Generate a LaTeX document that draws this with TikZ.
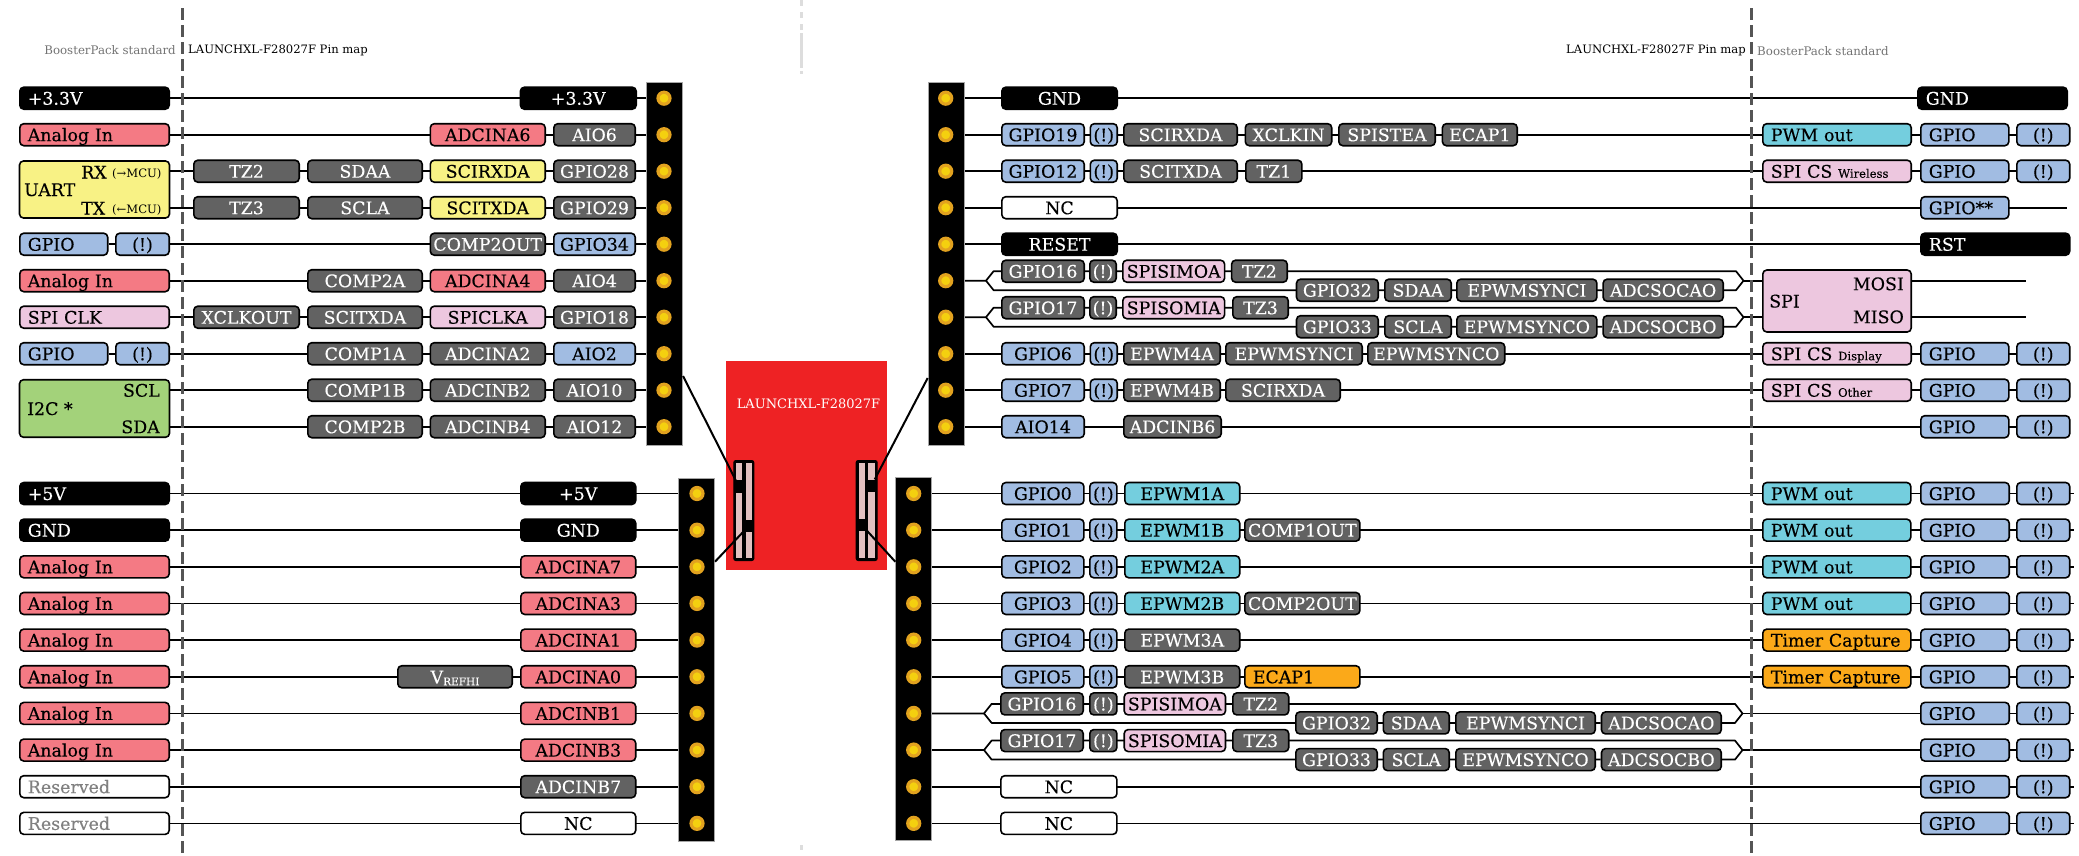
\documentclass[tikz,border=0pt]{standalone}
\usepackage{fontspec}
\setmainfont[FakeBold=0.2]{DejaVu Serif}
\newfontfamily\thinfont{DejaVu Serif}
\usetikzlibrary{backgrounds}
\definecolor{analogred}{HTML}{F47A84}
\definecolor{uartyellow}{HTML}{F8F285}
\definecolor{gpioblue}{HTML}{A1BCE2}
\definecolor{altgray}{HTML}{626262}
\definecolor{spipink}{HTML}{EDC7DF}
\definecolor{i2cgreen}{HTML}{A3D27A}
\definecolor{pwmcyan}{HTML}{74CEDE}
\definecolor{capamber}{HTML}{FBA919}
\definecolor{boardred}{HTML}{EE2224}
\definecolor{pinamber}{HTML}{E2A21F}
\definecolor{pinyellow}{HTML}{F4D00F}
\definecolor{socketpink}{HTML}{E2C0C0}
\definecolor{guidegray}{HTML}{555555}
\definecolor{centergray}{HTML}{DDDDDD}
\newcommand{\lbl}{\fontsize{17.4}{20}\selectfont}
\newcommand{\smalllbl}{\thinfont\fontsize{11.6}{13}\selectfont}
\newcommand{\cslbl}{\fontsize{11.6}{12}\selectfont}
\tikzset{
  declare function={ya(\i)=98.2+36.5*\i; yb(\i)=493.5+36.65*\i;},
  pinbox/.style={draw=black, line width=1.6pt, rounded corners=4pt, inner sep=0pt, minimum height=22pt, align=center, text height=15pt, text depth=2pt, font=\lbl},
  lft/.style={align=left, execute at begin node=\hspace*{8pt}},
  powerbox/.style={pinbox, fill=black, text=white},
  analogbox/.style={pinbox, fill=analogred},
  uartbox/.style={pinbox, fill=uartyellow},
  gpiobox/.style={pinbox, fill=gpioblue},
  altbox/.style={pinbox, fill=altgray, text=white},
  spibox/.style={pinbox, fill=spipink},
  i2cbox/.style={pinbox, fill=i2cgreen},
  pwmbox/.style={pinbox, fill=pwmcyan},
  capbox/.style={pinbox, fill=capamber},
  ncbox/.style={pinbox, fill=white},
  rsvbox/.style={pinbox, fill=white, text=black!50},
  tag/.style={inner sep=0pt, font=\lbl, text height=15pt, text depth=2pt},
  wire/.style={line width=1.7pt, black},
  strip/.style={fill=black, draw=black!35, line width=0.8pt, minimum width=36pt, minimum height=363pt, inner sep=0pt},
  pin/.style={circle, fill=pinyellow, draw=pinamber, line width=3.2pt, minimum size=12pt, inner sep=0pt},
  sockpin/.style={fill=black, minimum width=9pt, minimum height=12.7pt, inner sep=0pt},
  guide/.style={guidegray, line width=3pt, dash pattern=on 12pt off 5pt},
  stamp/.style={inner sep=0pt, font=\smalllbl},
}
\newcommand{\chip}[6]{%
  \pgfmathsetmacro{\chipw}{#4-#3-1.6}%
  \pgfmathsetmacro{\chipx}{(#3+#4)/2}%
  \pgfmathsetmacro{\chipy}{#5}%
  \node[#2, text width=\chipw pt] (#1) at (\chipx,\chipy) {#6};%
}
\begin{document}
\begin{tikzpicture}[x=1pt, y=-1pt]
  \useasboundingbox (0,0) rectangle (2079,855);
  % centre marks and the two standard lines
  \draw[centergray, line width=3pt, dash pattern=on 6pt off 6pt] (801,0) -- (801,30);
  \draw[centergray, line width=3pt] (801,33) -- (801,68);
  \draw[centergray, line width=3pt] (801,71) -- (801,74);
  \draw[centergray, line width=3pt] (801,845) -- (801,850);
  \draw[guide] (182.6,8) -- (182.6,853);
  \draw[guide] (1751,8) -- (1751,853);
  \node[stamp, text=black!55, font=\thinfont\fontsize{11.8}{13}\selectfont, anchor=east] (stdL) at (176,50.5) {BoosterPack standard};
  \node[stamp, anchor=west] (mapL) at (188,50) {LAUNCHXL-F28027F Pin map};
  \node[stamp, anchor=east] (mapR) at (1746,50) {LAUNCHXL-F28027F Pin map};
  \node[stamp, text=black!55, font=\thinfont\fontsize{11.8}{13}\selectfont, anchor=west] (stdR) at (1757,51) {BoosterPack standard};
  % board
  \node[fill=boardred, minimum width=161.6pt, minimum height=209pt, inner sep=0pt] (board) at (806.5,465.5) {};
  \node[text=white, inner sep=0pt, font=\thinfont\fontsize{13}{15}\selectfont] (boardname) at (808.5,404) {LAUNCHXL-F28027F};
  \node[fill=black, draw=black, line width=1pt, rounded corners=2pt, minimum width=20pt, minimum height=100pt, inner sep=0pt] (sockL) at (743.8,510.5) {};
  \node[fill=black, draw=black, line width=1pt, rounded corners=2pt, minimum width=21pt, minimum height=100pt, inner sep=0pt] (sockR) at (866.7,510.5) {};
  \foreach \x in {736,745.7,858.7,868.3}
    \fill[socketpink] (\x,463.3) rectangle ++(6.3,95);
  \node[sockpin] (sockLa) at (739,486.7) {};
  \node[sockpin] (sockLb) at (748.7,526) {};
  \node[sockpin] (sockRa) at (871.3,486) {};
  \node[sockpin] (sockRb) at (861.7,525) {};
  % headers
  \node[strip] (stripLa) at (664.5,263.4) {};
  \node[strip] (stripLb) at (696.8,659.8) {};
  \node[strip] (stripRa) at (946,263.4) {};
  \node[strip] (stripRb) at (913.8,659.2) {};
  \foreach \i in {0,...,9} {
    \node[pin] (pa\i) at (664,{ya(\i)}) {};
    \node[pin] (qa\i) at (945.7,{ya(\i)}) {};
    \node[pin] (pb\i) at (697,{yb(\i)}) {};
    \node[pin] (qb\i) at (913.7,{yb(\i)}) {};
  }
  \coordinate (stripLaIn) at (683,376);
  \coordinate (stripLbIn) at (715,561.7);
  \coordinate (stripRaIn) at (927.7,378);
  \coordinate (stripRbIn) at (895.3,561.7);
  \draw[line width=2pt] (sockLa) -- (stripLaIn);
  \draw[line width=2pt] (sockLb) -- (stripLbIn);
  \draw[line width=2pt] (sockRa) -- (stripRaIn);
  \draw[line width=2pt] (sockRb) -- (stripRbIn);
  % upper left, BoosterPack side
  \chip{la0}{powerbox,lft}{19}{170}{ya(0)}{+3.3V}
  \chip{la1}{analogbox,lft}{19}{170}{ya(1)}{Analog In}
  \node[uartbox, minimum width=150pt, minimum height=57pt] (uart) at (94.5,189.5) {};
  \node[tag, anchor=west] (uartname) at (24,189.5) {UART};
  \node[tag, anchor=west] (uartrx) at (81,172) {RX};
  \node[tag, anchor=west] (uarttx) at (81,208) {TX};
  \node[stamp, anchor=west, yshift=-2pt] (uartin) at (112,172) {(→MCU)};
  \node[stamp, anchor=west, yshift=-2pt] (uartout) at (112,208) {(←MCU)};
  \coordinate (la2) at (uart.east |- pa2);
  \coordinate (la3) at (uart.east |- pa3);
  \chip{la4}{gpiobox,lft}{19}{108.5}{ya(4)}{GPIO}
  \chip{la4x}{gpiobox}{115}{170}{ya(4)}{(!)}
  \chip{la5}{analogbox,lft}{19}{170}{ya(5)}{Analog In}
  \chip{la6}{spibox,lft}{19}{170}{ya(6)}{SPI CLK}
  \chip{la7}{gpiobox,lft}{19}{108.5}{ya(7)}{GPIO}
  \chip{la7x}{gpiobox}{115}{170}{ya(7)}{(!)}
  \node[i2cbox, minimum width=150pt, minimum height=57.5pt] (i2c) at (94.5,408.5) {};
  \node[tag, anchor=west] (i2cname) at (27,408.5) {I2C *};
  \node[tag, anchor=east] (i2cscl) at (160,{ya(8)}) {SCL};
  \node[tag, anchor=east] (i2csda) at (160,{ya(9)}) {SDA};
  \coordinate (la8) at (i2c.east |- pa8);
  \coordinate (la9) at (i2c.east |- pa9);
  % upper left, pin map
  \foreach \nm/\st/\xa/\xb/\yy/\tx in {
    a0a/powerbox/519.6/637/ya(0)/+3.3V,
    a1b/analogbox/429.5/546/ya(1)/ADCINA6, a1a/altbox/553/636/ya(1)/AIO6,
    a2d/altbox/193/300/ya(2)/TZ2, a2c/altbox/307/423/ya(2)/SDAA, a2b/uartbox/429.5/546/ya(2)/SCIRXDA, a2a/altbox/553/636/ya(2)/GPIO28,
    a3d/altbox/193/300/ya(3)/TZ3, a3c/altbox/307/423/ya(3)/SCLA, a3b/uartbox/429.5/546/ya(3)/SCITXDA, a3a/altbox/553/636/ya(3)/GPIO29,
    a4b/altbox/429.5/546/ya(4)/COMP2OUT, a4a/gpiobox/553/636/ya(4)/GPIO34,
    a5c/altbox/307/423/ya(5)/COMP2A, a5b/analogbox/429.5/546/ya(5)/ADCINA4, a5a/altbox/553/636/ya(5)/AIO4,
    a6d/altbox/193/300/ya(6)/XCLKOUT, a6c/altbox/307/423/ya(6)/SCITXDA, a6b/spibox/429.5/546/ya(6)/SPICLKA, a6a/altbox/553/636/ya(6)/GPIO18,
    a7c/altbox/307/423/ya(7)/COMP1A, a7b/altbox/429.5/546/ya(7)/ADCINA2, a7a/gpiobox/553/636/ya(7)/AIO2,
    a8c/altbox/307/423/ya(8)/COMP1B, a8b/altbox/429.5/546/ya(8)/ADCINB2, a8a/altbox/553/636/ya(8)/AIO10,
    a9c/altbox/307/423/ya(9)/COMP2B, a9b/altbox/429.5/546/ya(9)/ADCINB4, a9a/altbox/553/636/ya(9)/AIO12}
    \chip{\nm}{\st}{\xa}{\xb}{\yy}{\tx};
  % lower left
  \chip{lb0}{powerbox,lft}{19}{170}{yb(0)}{+5V}
  \chip{lb1}{powerbox,lft}{19}{170}{yb(1)}{GND}
  \foreach \i in {2,...,7}
    \chip{lb\i}{analogbox,lft}{19}{170}{yb(\i)}{Analog In};
  \chip{lb8}{rsvbox,lft}{19}{170}{yb(8)}{Reserved}
  \chip{lb9}{rsvbox,lft}{19}{170}{yb(9)}{Reserved}
  \foreach \nm/\st/\yy/\tx in {
    b0a/powerbox/yb(0)/+5V, b1a/powerbox/yb(1)/GND, b2a/analogbox/yb(2)/ADCINA7, b3a/analogbox/yb(3)/ADCINA3,
    b4a/analogbox/yb(4)/ADCINA1, b5a/analogbox/yb(5)/ADCINA0, b6a/analogbox/yb(6)/ADCINB1, b7a/analogbox/yb(7)/ADCINB3,
    b8a/altbox/yb(8)/ADCINB7, b9a/ncbox/yb(9)/NC}
    \chip{\nm}{\st}{520}{636.5}{\yy}{\tx};
  \chip{b5b}{altbox}{397}{513}{yb(5)}{V\raisebox{-2pt}{\fontsize{10.5}{12}\selectfont REFHI}}
  % upper right, pin map
  \foreach \nm/\st/\xa/\xb/\yy/\tx in {
    c0a/powerbox/1001/1118/ya(0)/GND,
    c1a/gpiobox/1001/1085/ya(1)/GPIO19, c1b/gpiobox/1089.5/1118/ya(1)/(!), c1c/altbox/1123/1238/ya(1)/SCIRXDA, c1d/altbox/1244.5/1332.5/ya(1)/XCLKIN, c1e/altbox/1338/1436/ya(1)/SPISTEA, c1f/altbox/1441.6/1518/ya(1)/ECAP1,
    c2a/gpiobox/1001/1085/ya(2)/GPIO12, c2b/gpiobox/1089.5/1118/ya(2)/(!), c2c/altbox/1123/1238/ya(2)/SCITXDA, c2d/altbox/1245/1302.7/ya(2)/TZ1,
    c3a/ncbox/1001/1118/ya(3)/NC,
    c4a/powerbox/1001/1118/ya(4)/RESET,
    c5a/altbox/1001/1085/ya(5)-9.5/GPIO16, c5b/altbox/1089/1117/ya(5)-9.5/(!), c5c/spibox/1122/1225.4/ya(5)-9.5/SPISIMOA, c5d/altbox/1230.8/1288/ya(5)-9.5/TZ2,
    c5e/altbox/1295.7/1379/ya(5)+9.5/GPIO32, c5f/altbox/1384/1452/ya(5)+9.5/SDAA, c5g/altbox/1456/1597.7/ya(5)+9.5/EPWMSYNCI, c5h/altbox/1602.3/1724/ya(5)+9.5/ADCSOCAO,
    c6a/altbox/1001/1085/ya(6)-9.5/GPIO17, c6b/altbox/1089/1117/ya(6)-9.5/(!), c6c/spibox/1122/1225.4/ya(6)-9.5/SPISOMIA, c6d/altbox/1232/1289/ya(6)-9.5/TZ3,
    c6e/altbox/1295.7/1379/ya(6)+9.5/GPIO33, c6f/altbox/1384/1452/ya(6)+9.5/SCLA, c6g/altbox/1456/1597.7/ya(6)+9.5/EPWMSYNCO, c6h/altbox/1602.3/1724/ya(6)+9.5/ADCSOCBO,
    c7a/gpiobox/1001/1085/ya(7)/GPIO6, c7b/gpiobox/1089.5/1118/ya(7)/(!), c7c/altbox/1123/1221/ya(7)/EPWM4A, c7d/altbox/1225/1363/ya(7)/EPWMSYNCI, c7e/altbox/1367/1505.5/ya(7)/EPWMSYNCO,
    c8a/gpiobox/1001/1085/ya(8)/GPIO7, c8b/gpiobox/1089.5/1118/ya(8)/(!), c8c/altbox/1123/1221/ya(8)/EPWM4B, c8d/altbox/1225/1341/ya(8)/SCIRXDA,
    c9a/gpiobox/1001/1085/ya(9)/AIO14, c9c/altbox/1123/1222/ya(9)/ADCINB6}
    \chip{\nm}{\st}{\xa}{\xb}{\yy}{\tx};
  % upper right, BoosterPack side
  \chip{ra0}{powerbox,lft}{1917}{2068}{ya(0)}{GND}
  \chip{d1}{pwmbox,lft}{1762}{1912}{ya(1)}{PWM out}
  \chip{d2}{spibox,lft}{1762}{1912}{ya(2)}{SPI CS {\cslbl Wireless}}
  \chip{d7}{spibox,lft}{1762}{1912}{ya(7)}{SPI CS {\cslbl Display}}
  \chip{d8}{spibox,lft}{1762}{1912}{ya(8)}{SPI CS {\cslbl Other}}
  \chip{e3}{gpiobox,lft}{1920}{2009.6}{ya(3)}{GPIO**}
  \coordinate (ra3) at (2067,{ya(3)});
  \chip{ra4}{powerbox,lft}{1920}{2070.5}{ya(4)}{RST}
  \foreach \i in {1,2,7,8,9} {
    \chip{e\i}{gpiobox,lft}{1920}{2009.6}{ya(\i)}{GPIO}
    \chip{ra\i}{gpiobox}{2016}{2070.5}{ya(\i)}{(!)}
  }
  \node[spibox, minimum width=148.4pt, minimum height=62pt] (spi) at (1837,301) {};
  \node[tag, anchor=west] (spiname) at (1769,301) {SPI};
  \node[tag, anchor=east] (spimosi) at (1904,{ya(5)+3}) {MOSI};
  \node[tag, anchor=east] (spimiso) at (1904,{ya(6)-0.5}) {MISO};
  \coordinate (mosiEnd) at (2026,{ya(5)});
  \coordinate (misoEnd) at (2026,{ya(6)});
  % lower right, pin map
  \foreach \i/\gp/\midname/\st/\ex/\est in {
    0/GPIO0/EPWM1A/pwmbox//none, 1/GPIO1/EPWM1B/pwmbox/COMP1OUT/altbox, 2/GPIO2/EPWM2A/pwmbox//none,
    3/GPIO3/EPWM2B/pwmbox/COMP2OUT/altbox, 4/GPIO4/EPWM3A/altbox//none, 5/GPIO5/EPWM3B/altbox//none} {
    \chip{f\i a}{gpiobox}{1001}{1084.7}{yb(\i)}{\gp}
    \chip{f\i b}{gpiobox}{1089}{1117.7}{yb(\i)}{(!)}
    \chip{f\i c}{\st}{1124}{1240.5}{yb(\i)}{\midname}
    \ifx\ex\empty\else\chip{f\i d}{\est}{1244}{1360.7}{yb(\i)}{\ex}\fi
  }
  \chip{f5d}{capbox,lft}{1244}{1360.7}{yb(5)}{ECAP1}
  \foreach \nm/\st/\xa/\xb/\yy/\tx in {
    f6a/altbox/1000/1084/yb(6)-9.5/GPIO16, f6b/altbox/1089/1117.7/yb(6)-9.5/(!), f6c/spibox/1123.4/1226.3/yb(6)-9.5/SPISIMOA, f6d/altbox/1232/1289.5/yb(6)-9.5/TZ2,
    f6e/altbox/1295/1378/yb(6)+9.5/GPIO32, f6f/altbox/1382.5/1450/yb(6)+9.5/SDAA, f6g/altbox/1455/1596/yb(6)+9.5/EPWMSYNCI, f6h/altbox/1600.7/1722/yb(6)+9.5/ADCSOCAO,
    f7a/altbox/1000/1084/yb(7)-9.5/GPIO17, f7b/altbox/1089/1117.7/yb(7)-9.5/(!), f7c/spibox/1123.4/1226.3/yb(7)-9.5/SPISOMIA, f7d/altbox/1232/1289.5/yb(7)-9.5/TZ3,
    f7e/altbox/1295/1378/yb(7)+9.5/GPIO33, f7f/altbox/1382.5/1450/yb(7)+9.5/SCLA, f7g/altbox/1455/1596/yb(7)+9.5/EPWMSYNCO, f7h/altbox/1600.7/1722/yb(7)+9.5/ADCSOCBO,
    f8a/ncbox/1000/1117.7/yb(8)/NC, f9a/ncbox/1000/1117.7/yb(9)/NC}
    \chip{\nm}{\st}{\xa}{\xb}{\yy}{\tx};
  % lower right, BoosterPack side
  \foreach \i in {0,1,2,3}
    \chip{h\i}{pwmbox,lft}{1762}{1911.6}{yb(\i)}{PWM out};
  \foreach \i in {4,5}
    \chip{h\i}{capbox,lft}{1762}{1911.6}{yb(\i)}{Timer Capture};
  \foreach \i in {0,...,9} {
    \chip{g\i}{gpiobox,lft}{1920}{2010}{yb(\i)}{GPIO}
    \chip{k\i}{gpiobox}{2016}{2070.5}{yb(\i)}{(!)}
    \coordinate (rb\i) at (2074,{yb(\i)});
  }
  % wires go under everything
  \begin{scope}[on background layer]
    \foreach \i in {0,...,9} {
      \draw[wire] (la\i) -- (pa\i);
      \draw[wire] (lb\i) -- (pb\i);
    }
    \foreach \i in {0,1,2,3,4,7,8,9}
      \draw[wire] (qa\i) -- (ra\i);
    \foreach \i in {0,1,2,3,4,5,8,9}
      \draw[wire] (qb\i) -- (rb\i);
    \foreach \pin/\yy/\halt/\adc/\xl/\xr in {
      qa5/ya(5)/spi.west/c5h/986/1736, qa6/ya(6)/spi.west/c6h/986/1736,
      qb6/yb(6)/rb6/f6h/984/1735, qb7/yb(7)/rb7/f7h/984/1735} {
      \coordinate (\pin L) at (\xl,{\yy});
      \coordinate (\pin U) at (\xl+7.6,{\yy-9.5});
      \coordinate (\pin D) at (\xl+7.6,{\yy+9.5});
      \coordinate (\pin V) at (\xr,{\yy-9.5});
      \coordinate (\pin W) at (\xr,{\yy+9.5});
      \coordinate (\pin R) at (\xr+7.5,{\yy});
      \draw[wire, line join=round] (\pin) -- (\pin L) -- (\pin U) -- (\pin V) -- (\pin R) -- (\pin W) -- (\adc);
      \draw[wire, line join=round] (\pin L) -- (\pin D) -- (\adc);
      \draw[wire] (\pin R) -- (\halt |- \pin);
    }
    \draw[wire] (spi.east |- qa5) -- (mosiEnd);
    \draw[wire] (spi.east |- qa6) -- (misoEnd);
  \end{scope}
\end{tikzpicture}
\end{document}
